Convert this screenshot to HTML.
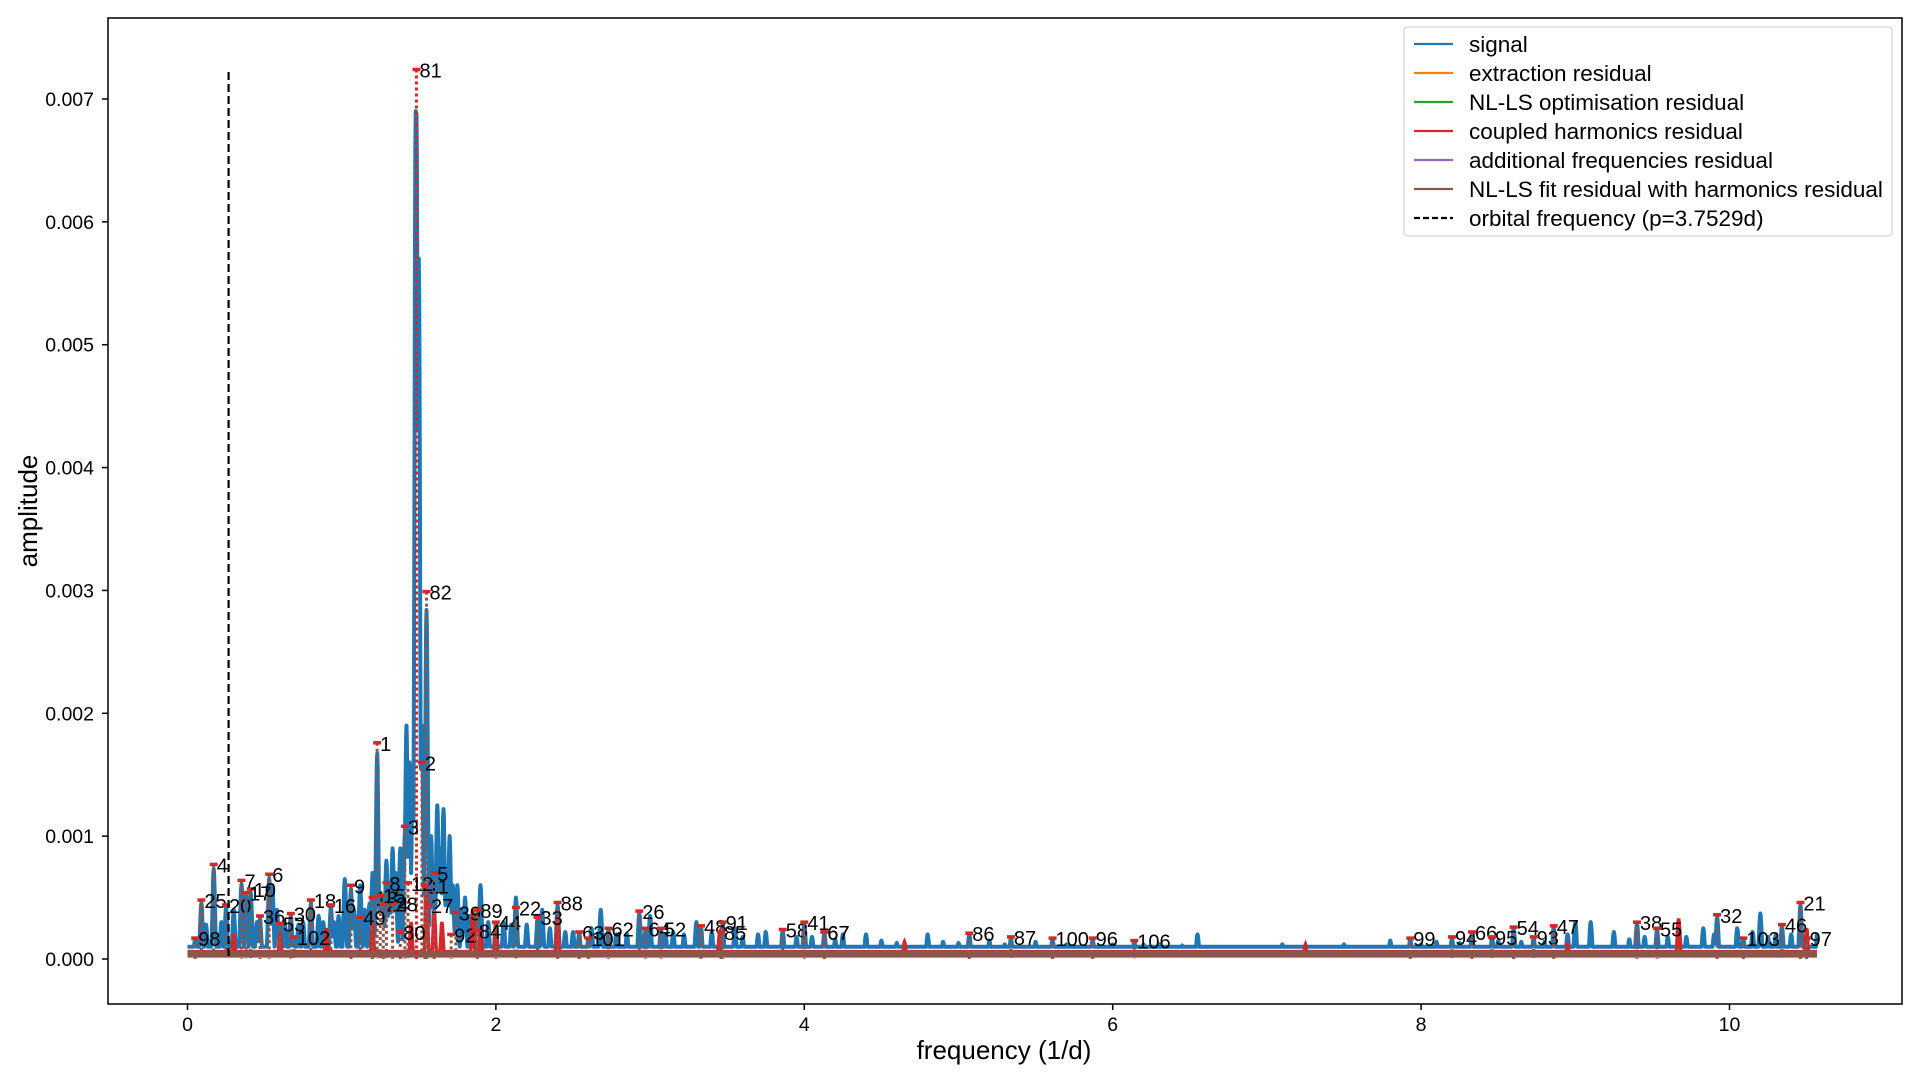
<!DOCTYPE html>
<html><head><meta charset="utf-8"><style>
html,body{margin:0;padding:0;background:#fff;}
svg{display:block;font-family:"Liberation Sans","DejaVu Sans",sans-serif;}
</style></head><body>
<svg id="chart" width="1920" height="1080" viewBox="0 0 1920 1080" xmlns="http://www.w3.org/2000/svg">
<rect width="1920" height="1080" fill="#fff"/>
<g id="plot"></g>
<rect x="108" y="18" width="1794" height="986" fill="none" stroke="#000" stroke-width="1.5"/>
<g id="axes"></g>
<text x="1004" y="1059" font-size="26" text-anchor="middle">frequency (1/d)</text>
<text transform="translate(37,511) rotate(-90)" font-size="26" text-anchor="middle">amplitude</text>
<g id="legend"></g>
</svg>
<script>
const xTicks=[0,2,4,6,8,10];
const yTicks=[0,0.001,0.002,0.003,0.004,0.005,0.006,0.007];
const yTickLabels=["0.000","0.001","0.002","0.003","0.004","0.005","0.006","0.007"];
const labelIds=[81,82,1,2,3,4,25,7,10,6,9,18,16,30,8,12,11,67,27,39,89,44,22,33,88,26,62,63,101,64,52,48,91,85,58,41,67,86,87,100,96,106,99,94,66,95,54,93,47,38,55,32,103,46,21,97,98,80,92,84,20,17,36,53,102,13,24,28,5,49,15];
const labelFreq=[1.485,1.55,1.23,1.52,1.41,0.17,0.09,0.35,0.41,0.53,1.06,0.80,0.93,0.67,1.29,1.43,1.54,4.13,1.56,1.74,1.88,2.0,2.13,2.27,2.40,2.93,2.73,2.54,2.60,2.97,3.07,3.33,3.47,3.46,3.86,4.0,4.13,5.07,5.34,5.61,5.87,6.14,7.93,8.2,8.33,8.46,8.6,8.73,8.86,9.4,9.53,9.92,10.09,10.34,10.46,10.5,0.05,1.38,1.71,1.87,0.25,0.38,0.47,0.6,0.69,1.2,1.27,1.33,1.60,1.12,1.25];
const labelAmp=[0.00724,0.00299,0.00176,0.0016,0.00108,0.00077,0.00048,0.00064,0.00057,0.00069,0.0006,0.00048,0.00044,0.00037,0.00062,0.00062,0.0006,0.00022,0.00044,0.00038,0.0004,0.0003,0.00042,0.00034,0.00046,0.00039,0.00025,0.00022,0.00017,0.00025,0.00025,0.00027,0.0003,0.00022,0.00024,0.0003,0.00022,0.00021,0.00018,0.00017,0.00017,0.00015,0.00017,0.00018,0.00022,0.00018,0.00026,0.00018,0.00027,0.0003,0.00025,0.00036,0.00017,0.00028,0.00046,0.00017,0.00017,0.00022,0.0002,0.00023,0.00044,0.00054,0.00035,0.00029,0.00018,0.0005,0.00045,0.00045,0.0007,0.00034,0.00052];
const sigFreq=[1.48,1.50,1.52,1.545,1.42,1.44,1.46,1.38,1.33,1.29,1.62,1.66,1.70,1.58,1.75,1.80,1.90,2.13,2.30,2.68,3.0,3.3,3.55,4.4,4.8,5.2,6.55,7.1,7.8,9.0,9.1,9.25,9.67,9.83,10.2,10.57,0.55,1.02,1.12,1.2,0.3,0.8,3.75,4.25,5.5,6.3,8.0,8.5,8.95,9.45,10.05,10.3,
1.35,1.31,1.26,1.18,1.15,1.08,0.98,0.95,0.88,0.85,0.75,0.72,0.63,0.58,0.45,0.22,0.12,1.64,1.68,1.72,1.78,1.83,1.95,2.05,2.1,2.2,2.35,2.45,2.5,2.62,2.78,2.85,3.1,3.15,3.22,3.4,3.6,3.7,3.95,4.05,4.2,4.5,4.6,4.9,5.0,5.3,5.7,6.0,6.2,6.45,7.5,8.1,8.25,8.65,8.8,9.35,9.6,9.72,9.9,10.15,10.25,10.4];
const sigAmp=[0.0069,0.0057,0.0019,0.0019,0.0019,0.0016,0.0014,0.0009,0.0009,0.0008,0.00125,0.00122,0.001,0.001,0.0006,0.0005,0.0006,0.0005,0.0004,0.0004,0.00035,0.0003,0.00025,0.0002,0.0002,0.00015,0.0002,0.00012,0.00015,0.0003,0.0003,0.00022,0.0003,0.00025,0.00037,0.00022,0.0006,0.00065,0.0006,0.0007,0.0004,0.00045,0.00022,0.0002,0.00014,0.00012,0.00012,0.00015,0.0002,0.00018,0.00025,0.0002,
0.0007,0.0006,0.0005,0.00045,0.0004,0.0004,0.00035,0.0003,0.0003,0.00035,0.0003,0.00028,0.0003,0.0004,0.0003,0.0003,0.00028,0.0009,0.0007,0.0006,0.0004,0.00035,0.0003,0.0003,0.00028,0.00028,0.00025,0.00022,0.00022,0.00025,0.0002,0.0002,0.0002,0.00022,0.0002,0.00022,0.00018,0.0002,0.00018,0.00018,0.00016,0.00015,0.00013,0.00014,0.00013,0.00012,0.00012,0.00012,0.00012,0.00011,0.00012,0.00014,0.00013,0.00014,0.00014,0.00016,0.00018,0.00018,0.0002,0.00022,0.00018,0.0002];
const redFreq=[1.55,1.6,1.85,2.4,2.0,4.65,9.67,10.5,1.2,0.9,3.45,7.25,8.95,1.45,1.65,1.9,0.3,0.6];
const redAmp=[0.0006,0.0004,0.0004,0.00035,0.0003,0.00014,0.00033,0.00025,0.0003,0.00025,0.0002,0.00012,0.00012,0.0003,0.0003,0.00025,0.0002,0.0002];
const orbitalFreq=1/3.7529;
const fMax=10.57;

const NS='http://www.w3.org/2000/svg';
const X=f=>187.5+f*154.2;
const Y=a=>959-a*122857;
function mk(tag,attrs,parent){const e=document.createElementNS(NS,tag);for(const k in attrs)e.setAttribute(k,attrs[k]);parent.appendChild(e);return e;}
const plot=document.getElementById('plot'),axes=document.getElementById('axes'),leg=document.getElementById('legend');

function spectrum(fs,as,base,w){
  let d='';
  for(let f=0;f<=fMax;f+=0.0025){
    let v=base;
    for(let i=0;i<fs.length;i++){const t=(f-fs[i])/w;if(t*t<30){const g=as[i]*Math.exp(-t*t);if(g>v)v=g;}}
    d+=(d?'L':'M')+X(f).toFixed(1)+','+Y(v).toFixed(1);
  }
  return d;
}
const allSigF=sigFreq.concat(labelFreq), allSigA=sigAmp.concat(labelAmp.map(a=>a*0.95));
let p=mk('path',{d:spectrum(allSigF,allSigA,0.0001,0.011),fill:'none',stroke:'#1f77b4','stroke-width':4,'stroke-linejoin':'round'},plot);

p=mk('path',{d:spectrum(redFreq,redAmp,0.00006,0.01),fill:'none',stroke:'#d62728','stroke-width':3.5},plot);

p=mk('path',{d:spectrum([],[],0.00005,0.01),fill:'none',stroke:'#2ca02c','stroke-width':3},plot);

p=mk('path',{d:spectrum([],[],0.00004,0.01),fill:'none',stroke:'#8c564b','stroke-width':7},plot);


for(let i=0;i<labelIds.length;i++){
  const x=X(labelFreq[i]),y=Y(labelAmp[i]);
  const l=mk('line',{x1:x,y1:y,x2:x,y2:959,stroke:i==0?'#d62728':'#8c564b','stroke-width':3,'stroke-dasharray':'3,3'},plot);
  
  
  const m=mk('line',{x1:x-4,y1:y,x2:x+4,y2:y,stroke:'#d62728','stroke-width':3.5},plot);
  
  
  const t=mk('text',{x:x+3,y:y+8,'font-size':20},plot);
  t.textContent=labelIds[i];
  
  
}
p=mk('line',{x1:X(orbitalFreq),y1:Y(0.00722),x2:X(orbitalFreq),y2:959,stroke:'#000','stroke-width':2.2,'stroke-dasharray':'8,4'},plot);


xTicks.forEach(v=>{
  const g=mk('g',{},axes);
  
  
  mk('line',{x1:X(v),y1:1004,x2:X(v),y2:1010,stroke:'#000','stroke-width':1.5},g);
  const t=mk('text',{x:X(v),y:1031,'font-size':19.5,'text-anchor':'middle'},g);t.textContent=v;
});
yTicks.forEach((v,i)=>{
  const g=mk('g',{},axes);
  
  
  mk('line',{x1:102,y1:Y(v),x2:108,y2:Y(v),stroke:'#000','stroke-width':1.5},g);
  const t=mk('text',{x:94,y:Y(v)+7,'font-size':19.5,'text-anchor':'end'},g);t.textContent=yTickLabels[i];
});

const legNames=['signal','extraction residual','NL-LS optimisation residual','coupled harmonics residual','additional frequencies residual','NL-LS fit residual with harmonics residual','orbital frequency (p=3.7529d)'];
const legColors=['#1f77b4','#ff7f0e','#2ca02c','#d62728','#9467bd','#8c564b','#000'];
mk('rect',{x:1404,y:27,width:488,height:209,rx:3,fill:'#fff','fill-opacity':0.8,stroke:'#ccc'},leg);
legNames.forEach((n,i)=>{
  const y=44+i*29;
  const g=mk('g',{},leg);
  
  
  mk('line',{x1:1414,y1:y,x2:1453,y2:y,stroke:legColors[i],'stroke-width':2.2,'stroke-dasharray':i==6?'6,3':'none'},g);
  const t=mk('text',{x:1469,y:y+8,'font-size':22.5},g);t.textContent=n;
});
</script>
</body></html>
